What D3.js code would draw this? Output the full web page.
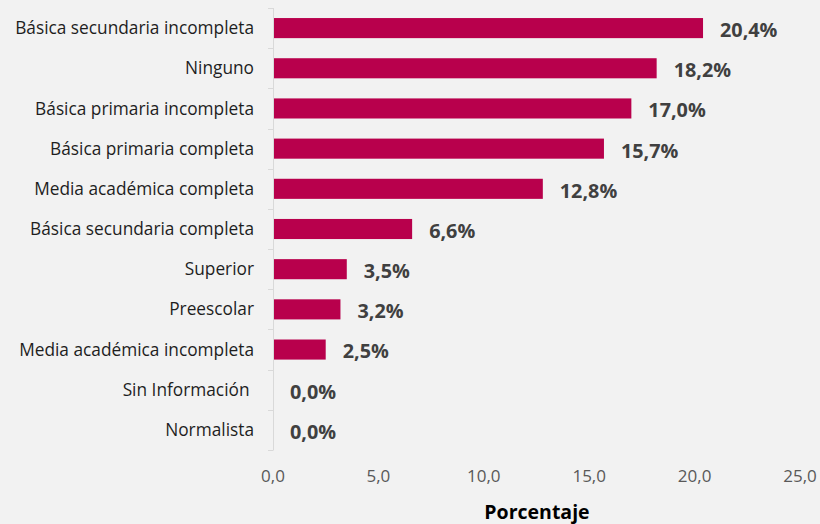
<!DOCTYPE html>
<html><head><meta charset="utf-8">
<script src="https://cdn.jsdelivr.net/npm/d3@7"></script>
<style>
html,body{margin:0;padding:0;background:#f2f2f2;}
svg{display:block;font-family:"Open Sans","Noto Sans",sans-serif;}
</style></head>
<body>
<svg id="c" width="820" height="524"></svg>
<script>
const categories = ["Básica secundaria incompleta","Ninguno","Básica primaria incompleta","Básica primaria completa","Media académica completa","Básica secundaria completa","Superior","Preescolar","Media académica incompleta","Sin Información ","Normalista"];
const values = [20.4,18.2,17.0,15.7,12.8,6.6,3.5,3.2,2.5,0.0,0.0];
const xTicks = [0,5,10,15,20,25];
const xTitle = "Porcentaje";

const svg = d3.select("#c");
svg.append("rect").attr("width",820).attr("height",524).attr("fill","#f2f2f2");
const x = d3.scaleLinear().domain([0,25]).range([273,800]);
const y = d3.scaleBand().domain(categories).range([8,450]).paddingInner(0.5).paddingOuter(0.25);
const fmt = v => d3.format(".1f")(v).replace(".",",");

const yb = d3.scaleLinear().domain([0,categories.length]).range([8,450]);
svg.append("line").attr("x1",273.5).attr("x2",273.5).attr("y1",8).attr("y2",450).attr("stroke","#d9d9d9").attr("stroke-width",1);
svg.selectAll("line.bt").data(d3.range(categories.length+1)).join("line").attr("class","bt")
  .attr("x1",268).attr("x2",273.5).attr("y1",d=>Math.round(yb(d))+0.5).attr("y2",d=>Math.round(yb(d))+0.5)
  .attr("stroke","#d9d9d9");

svg.selectAll("rect.bar").data(values).join("rect").attr("class","bar")
  .attr("x",x(0)+1).attr("y",(d,i)=>y(categories[i]))
  .attr("width",d=>Math.max(0,x(d)-x(0)-1)).attr("height",y.bandwidth())
  .attr("fill","#b8004c");

svg.selectAll("text.cat").data(categories).join("text").attr("class","cat")
  .attr("x",254).attr("y",d=>y(d)+y.bandwidth()/2).attr("dy","0.35em")
  .attr("text-anchor","end").attr("font-size",17.3).attr("fill","#1e1e1e")
  .style("white-space","pre").text(d=>d);

svg.selectAll("text.val").data(values).join("text").attr("class","val")
  .attr("x",d=>x(d)+17).attr("y",(d,i)=>y(categories[i])+y.bandwidth()/2+2).attr("dy","0.35em")
  .attr("font-size",19.8).attr("font-weight","bold").attr("fill","#404040")
  .text(d=>fmt(d)+"%");

svg.selectAll("text.xt").data(xTicks).join("text").attr("class","xt")
  .attr("x",d=>x(d)).attr("y",476).attr("dy","0.35em").attr("text-anchor","middle")
  .attr("font-size",17).attr("fill","#595959").text(d=>fmt(d));

svg.append("text").attr("x",537).attr("y",512).attr("dy","0.35em").attr("text-anchor","middle")
  .attr("font-size",19.5).attr("font-weight","bold").attr("fill","#000").text(xTitle);
</script>
</body></html>
